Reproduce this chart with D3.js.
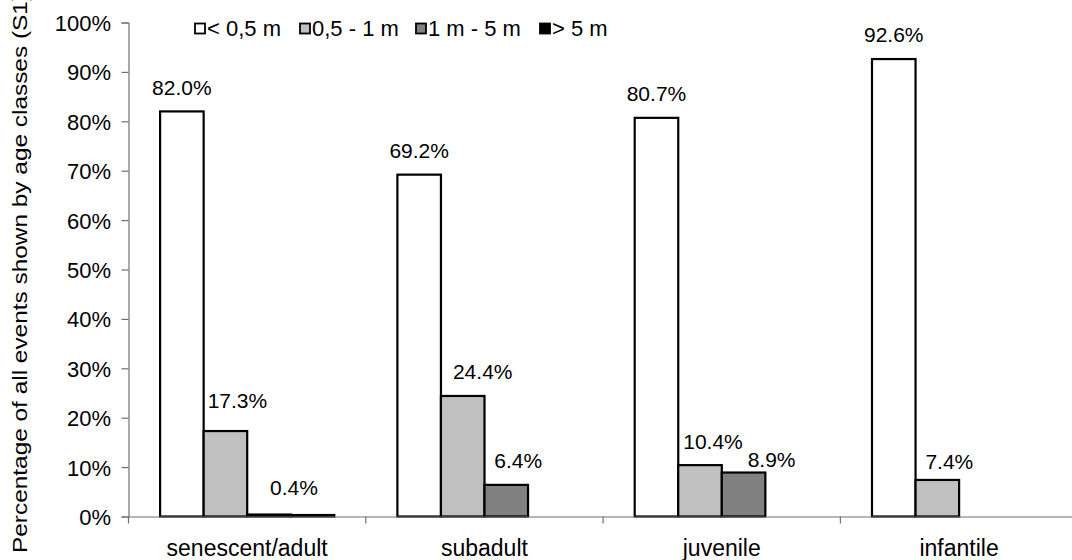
<!DOCTYPE html>
<html>
<head>
<meta charset="utf-8">
<script src="https://cdn.jsdelivr.net/npm/d3@7"></script>
<style>
  html, body { margin: 0; padding: 0; background: #fff; }
  svg text { font-family: "Liberation Sans", Arial, sans-serif; fill: #000; }
</style>
</head>
<body>
<svg id="chart" width="1072" height="560"></svg>
<script>
// ---- data ----
const categories = ["senescent/adult", "subadult", "juvenile", "infantile"];
const seriesNames = ["< 0,5 m", "0,5 - 1 m", "1 m - 5 m", "> 5 m"];
const seriesLt05 = [82.0, 69.2, 80.7, 92.6];
const series05to1 = [17.3, 24.4, 10.4, 7.4];
const series1to5 = [0.4, 6.4, 8.9, 0];
const seriesGt5 = [0.3, 0, 0, 0];
const yTicks = [0, 10, 20, 30, 40, 50, 60, 70, 80, 90, 100];
// labelled bars: [category index, series index, label]
const labelled = [
  [0, 0, "82.0%"], [0, 1, "17.3%"], [0, 2, "0.4%"],
  [1, 0, "69.2%"], [1, 1, "24.4%"], [1, 2, "6.4%"],
  [2, 0, "80.7%"], [2, 1, "10.4%"], [2, 2, "8.9%"],
  [3, 0, "92.6%"], [3, 1, "7.4%"]
];

// ---- layout (not data) ----
const labelOffsets = [
  [0, -16], [12, -23], [25, -20],
  [0, -17], [20, -17], [12, -17],
  [0, -17], [13, -16], [28, -6],
  [0, -17], [12, -11]
];
const colors = ["#ffffff", "#c0c0c0", "#808080", "#000000"];
const allSeries = [seriesLt05, series05to1, series1to5, seriesGt5];
const FONT = '"Liberation Sans", Arial, sans-serif';

const svg = d3.select("#chart");
const x0 = 128.5, yTop = 22.5, yBottom = 516.5;
const catW = 237.3;

const x = d3.scaleBand().domain(categories).range([x0, x0 + catW * categories.length]).padding(0);
const xs = d3.scaleBand().domain(d3.range(seriesNames.length)).range([31.6, 205.8]).padding(0);
const y = d3.scaleLinear().domain([0, 100]).range([yBottom, yTop]);

// bars
const barData = [];
categories.forEach((c, ci) => {
  allSeries.forEach((s, si) => {
    if (s[ci] > 0) barData.push({ c, ci, si, v: s[ci] });
  });
});
svg.append("g").selectAll("rect").data(barData).enter().append("rect")
  .attr("x", d => x(d.c) + xs(d.si))
  .attr("y", d => y(d.v))
  .attr("width", xs.bandwidth())
  .attr("height", d => yBottom - y(d.v))
  .attr("fill", d => colors[d.si])
  .attr("stroke", "#000")
  .attr("stroke-width", 2.2);

// y axis
const yAxis = d3.axisLeft(y).tickValues(yTicks).tickSize(7).tickFormat(d => d + "%");
const gy = svg.append("g").attr("transform", `translate(${x0},0)`).call(yAxis);
gy.select(".domain").attr("stroke", "#707070").attr("stroke-width", 1.2);
gy.selectAll(".tick line").attr("stroke", "#707070").attr("stroke-width", 1.2);
gy.selectAll(".tick text")
  .attr("x", -17.5).attr("dy", "0.36em")
  .style("font-family", FONT)
  .style("font-size", "22px").attr("fill", "#000");

// x axis
const xAxis = d3.axisBottom(x).tickSize(0).tickFormat("");
const gx = svg.append("g").attr("transform", `translate(0,${yBottom})`).call(xAxis);
gx.select(".domain").attr("stroke", "#707070").attr("stroke-width", 1.2);
gx.selectAll(".tick").remove();
// category separator ticks
svg.append("g").selectAll("line").data(categories).enter().append("line")
  .attr("x1", d => x(d)).attr("x2", d => x(d))
  .attr("y1", yBottom).attr("y2", yBottom + 7)
  .attr("stroke", "#707070").attr("stroke-width", 1.2);
// category labels
svg.append("g").selectAll("text").data(categories).enter().append("text")
  .attr("x", d => x(d) + x.bandwidth() / 2)
  .attr("y", 556)
  .attr("text-anchor", "middle")
  .style("font-size", "23px")
  .text(d => d);

// value labels
svg.append("g").selectAll("text").data(labelled).enter().append("text")
  .attr("x", (d, i) => x(categories[d[0]]) + xs(d[1]) + xs.bandwidth() / 2 + labelOffsets[i][0])
  .attr("y", (d, i) => y(allSeries[d[1]][d[0]]) + labelOffsets[i][1])
  .attr("text-anchor", "middle")
  .style("font-size", "21px")
  .text(d => d[2]);

// y axis title
svg.append("text")
  .attr("transform", "translate(27,553) rotate(-90)")
  .attr("text-anchor", "start")
  .attr("textLength", 560)
  .attr("lengthAdjust", "spacingAndGlyphs")
  .style("font-size", "21px")
  .text("Percentage of all events shown by age classes (S1)");

// legend
const legendX = [194, 299, 415, 539];
const lg = svg.append("g");
seriesNames.forEach((n, i) => {
  lg.append("rect").attr("x", legendX[i] + 1).attr("y", 23.5).attr("width", 10).attr("height", 10)
    .attr("fill", colors[i]).attr("stroke", "#000").attr("stroke-width", 1.8);
  lg.append("text").attr("x", legendX[i] + 13).attr("y", 35.5)
    .style("font-size", "22px").text(n);
});
</script>
</body>
</html>
